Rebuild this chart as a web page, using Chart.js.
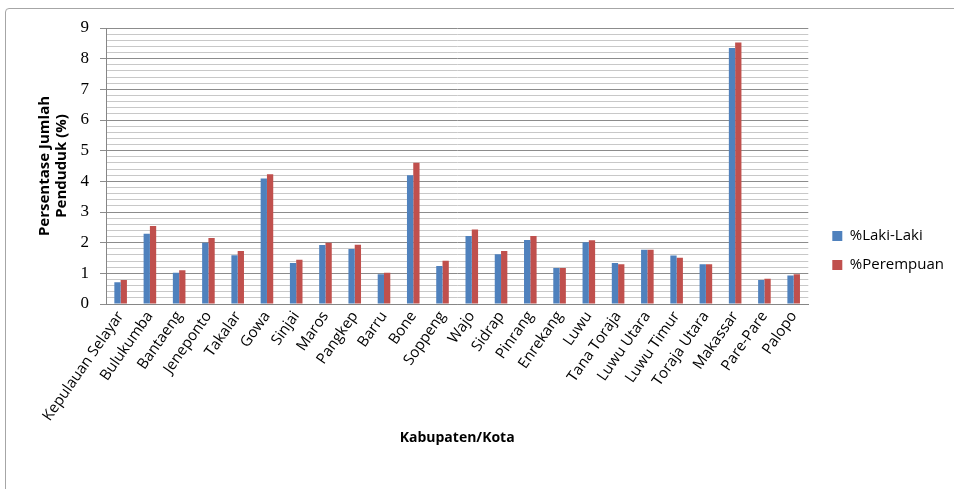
<!DOCTYPE html>
<html>
<head>
<meta charset="utf-8">
<script src="https://cdn.jsdelivr.net/npm/chart.js@4"></script>
<style>
  html, body { margin: 0; padding: 0; background: #fff; }
  #frame { position: absolute; left: 5px; top: 8px; width: 960px; height: 500px;
           border: 1px solid #a6a6a6; border-radius: 4px; }
  #chart { position: absolute; left: 0; top: 0; }
</style>
</head>
<body>
<div id="frame"></div>
<canvas id="chart" width="954" height="489"></canvas>
<script>
// Kabupaten/Kota names
var categories = ["Kepulauan Selayar", "Bulukumba", "Bantaeng", "Jeneponto", "Takalar", "Gowa",
    "Sinjai", "Maros", "Pangkep", "Barru", "Bone", "Soppeng", "Wajo", "Sidrap", "Pinrang",
    "Enrekang", "Luwu", "Tana Toraja", "Luwu Utara", "Luwu Timur", "Toraja Utara",
    "Makassar", "Pare-Pare", "Palopo"];

// percentages
var lakiLaki = [0.71, 2.29, 1.02, 2.00, 1.59, 4.09, 1.34, 1.92, 1.79, 0.97, 4.20, 1.24,
    2.22, 1.62, 2.09, 1.17, 2.01, 1.34, 1.77, 1.58, 1.30, 8.35, 0.78, 0.93];
var perempuan = [0.78, 2.54, 1.10, 2.15, 1.73, 4.23, 1.44, 2.00, 1.93, 1.02, 4.61, 1.41,
    2.43, 1.73, 2.22, 1.17, 2.08, 1.30, 1.77, 1.51, 1.30, 8.53, 0.82, 0.97];

var yMin = 0, yMax = 9, yStep = 0.2;

function isMajor(v) {
    return Math.abs(v - Math.round(v)) < 1e-6;
}

var ctx = document.getElementById("chart").getContext("2d");

new Chart(ctx, {
    type: "bar",
    data: {
        labels: categories,
        datasets: [{
            label: "%Laki-Laki",
            data: lakiLaki,
            backgroundColor: "#4F81BD"
        }, {
            label: "%Perempuan",
            data: perempuan,
            backgroundColor: "#C0504D"
        }]
    },
    options: {
        responsive: false,
        animation: false,
        layout: { padding: { top: 28, left: 0, right: 0, bottom: 16 } },
        datasets: { bar: { barPercentage: 1, categoryPercentage: 0.43 } },
        plugins: {
            tooltip: { enabled: false },
            legend: {
                position: "right",
                labels: {
                    boxWidth: 10, boxHeight: 10, padding: 14, color: "#000",
                    font: { family: "Open Sans", size: 15 }
                }
            }
        },
        scales: {
            x: {
                grid: { display: true, drawOnChartArea: false, drawTicks: false },
                border: { color: "#868686" },
                ticks: {
                    color: "#000", minRotation: 55, maxRotation: 55, autoSkip: false, padding: 4,
                    font: { family: "Open Sans", size: 15 }
                },
                title: {
                    display: true, text: "Kabupaten/Kota", color: "#000",
                    font: { family: "Open Sans", size: 14, weight: "bold" },
                    padding: { top: 4, bottom: 27 }
                },
                afterFit: function (s) { s.height = 169; }
            },
            y: {
                min: yMin, max: yMax,
                grid: {
                    // dark lines at whole numbers, light ones every 0.2
                    color: function (c) { return isMajor(c.tick.value) ? "#8c8c8c" : "#c8c8c8"; },
                    tickColor: function (c) { return isMajor(c.tick.value) ? "#8c8c8c" : "rgba(0,0,0,0)"; },
                    tickLength: 6
                },
                border: { color: "#868686" },
                ticks: {
                    stepSize: yStep, maxTicksLimit: 100, autoSkip: false, padding: 11, color: "#000",
                    font: { family: "Liberation Serif", size: 17 },
                    callback: function (v) { return isMajor(v) ? Math.round(v) : ""; }
                },
                title: {
                    display: true, text: ["Persentase Jumlah", "Penduduk (%)"], color: "#000",
                    font: { family: "Open Sans", size: 15, weight: "bold", lineHeight: 1.13 },
                    padding: { top: 36, bottom: 0 }
                },
                afterFit: function (s) { s.width = 106; }
            },
            gap: {
                type: "linear", position: "right",
                grid: { display: false }, border: { display: false },
                ticks: { display: false },
                afterFit: function (s) { s.width = 10; }
            }
        }
    }
});
</script>
</body>
</html>
